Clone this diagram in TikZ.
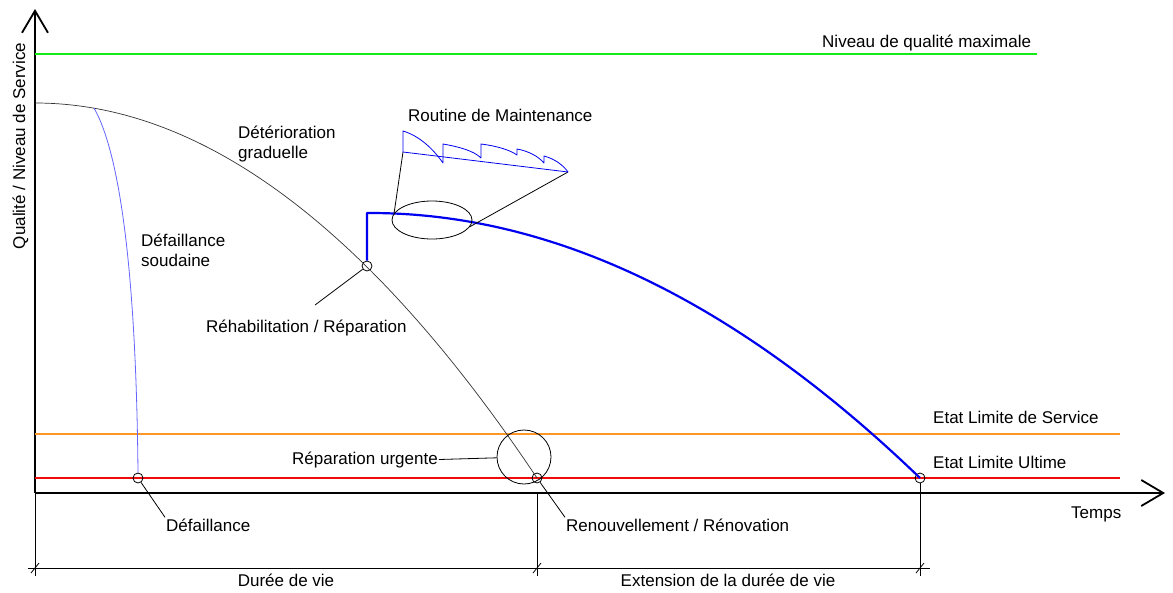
\documentclass[tikz,border=0pt]{standalone}
\usepackage{fontspec}
\setmainfont{Liberation Sans}
\usetikzlibrary{calc, arrows.meta, shapes.geometric, positioning}

\definecolor{niveauvert}{RGB}{20,235,20}
\definecolor{limorange}{RGB}{255,150,40}
\definecolor{limrouge}{RGB}{240,10,10}
\definecolor{bleufort}{RGB}{0,0,240}
\definecolor{bleuclair}{RGB}{100,100,255}

\begin{document}
\begin{tikzpicture}[x=1pt,y=-1pt,inner sep=1pt,font=\fontsize{17}{20}\selectfont,>={Straight Barb[length=22pt,width=26pt]},%
  txt/.style={anchor=base west},
  ring/.style={draw,circle,minimum size=10pt,inner sep=0pt,line width=.8pt},
  thinline/.style={line width=.8pt},
  level/.style={line width=2.6pt}]
\useasboundingbox (0,0) rectangle (1173,592);
% axes
\coordinate (O) at (35,493);
\coordinate (Ytop) at (35,9);
\coordinate (Xend) at (1165,493);
\draw [->,line width=1.8pt] (O) -- (Ytop);
\draw [->,line width=1.8pt] (O) -- (Xend);
\node [rotate=90,anchor=base] (lblY) at (25,146) {Qualité / Niveau de Service};
\node [txt] (lblTemps) at (1070,518) {Temps};
% levels
\coordinate (G0) at (35,54);  \coordinate (G1) at (1037,54);
\coordinate (S0) at (35,434); \coordinate (S1) at (1120,434);
\coordinate (U0) at (35,478); \coordinate (U1) at (1120,478);
\draw [level,niveauvert] (G0) -- (G1);
\draw [level,limorange] (S0) -- (S1);
\draw [level,limrouge] (U0) -- (U1);
\node [txt] (lblMax) at (821,47) {Niveau de qualité maximale};
\node [txt] (lblELS) at (932,423) {Etat Limite de Service};
\node [txt] (lblELU) at (932,468) {Etat Limite Ultime};
% points
\node [ring] (fail)   at (138,478) {};
\node [ring] (renew)  at (537,478) {};
\node [ring] (ultime) at (920,478) {};
\node [ring] (rehab)  at (367,266) {};
% gradual deterioration
\draw [line width=.7pt,black!80] plot [domain=35:537,samples=80] (\x,{103+375*((\x-35)/502)^2});
\node [txt] (lblGradA) at (237,138) {Détérioration};
\node [txt,below=20pt of lblGradA.base west,anchor=base west] (lblGradB) {graduelle};
% sudden failure
\coordinate (split) at (94,108);
\draw [line width=.8pt,bleuclair] (split) .. controls (118,150) and (136,260) .. (fail.north);
\node [txt] (lblSudA) at (140,246) {Défaillance};
\node [txt,below=20pt of lblSudA.base west,anchor=base west] (lblSudB) {soudaine};
% rehabilitation and extended life
\coordinate (Rtop) at (367,213);
\draw [line width=2.2pt,bleufort,line join=round] (rehab.north) -- (Rtop) -- plot [domain=370:920,samples=80] (\x,{213+265*((\x-370)/550)^2});
\coordinate (rehabEnd) at (315,305);
\draw [thinline] (rehab) -- (rehabEnd);
\node [txt] (lblRehab) at (205,332) {Réhabilitation / Réparation};
% maintenance routine
\node [draw,ellipse,thinline,minimum width=80pt,minimum height=38pt] (ovalMaint) at (432,220) {};
\coordinate (sawA) at (403,152);
\coordinate (sawB) at (568,172);
\draw [thinline] (ovalMaint.170) -- (sawA);
\draw [thinline] (ovalMaint.-10) -- (sawB);
\draw [thinline,bleufort] (sawA) -- (sawB);
\draw [thinline,bleufort,line join=round] (sawA) -- (403,131)
  .. controls (420,136) and (434,150) .. (443,163) -- (443,144)
  .. controls (460,147) and (474,151) .. (481,158) -- (481,144)
  .. controls (497,146) and (510,150) .. (517,155) -- (517,149)
  .. controls (528,151) and (538,156) .. (544,163) -- (544,156)
  .. controls (555,159) and (563,165) .. (sawB);
\node [txt] (lblMaint) at (407,121) {Routine de Maintenance};
% urgent repair
\node [draw,circle,thinline,minimum size=54pt,inner sep=0pt] (bigRing) at (524,457) {};
\node [txt] (lblUrgent) at (291,464) {Réparation urgente};
\draw [thinline] (lblUrgent.east) -- (bigRing);
% failure / renewal labels
\node [txt] (lblFail) at (165,531) {Défaillance};
\node [txt] (lblRenew) at (565,531) {Renouvellement / Rénovation};
\draw [thinline] (fail) -- (lblFail.north west);
\draw [thinline] (renew) -- (lblRenew.north west);
% life span dimensions
\coordinate (E0) at (35,576);
\coordinate (R0) at (537,493); \coordinate (E1) at (537,576);
\coordinate (E2) at (920,576);
\draw [thinline] (O) -- (E0);
\draw [thinline] (R0) -- (E1);
\draw [thinline] (ultime) -- (E2);
\coordinate (D0) at (28,568); \coordinate (D1) at (930,568);
\draw [thinline] (D0) -- (D1);
\foreach \t in {35,537,920} \draw [thinline] (\t-4,573) -- (\t+4,563);
\node [anchor=base] (lblLife) at (286,586) {Durée de vie};
\node [anchor=base] (lblExt) at (728,586) {Extension de la durée de vie};
\end{tikzpicture}
\end{document}
